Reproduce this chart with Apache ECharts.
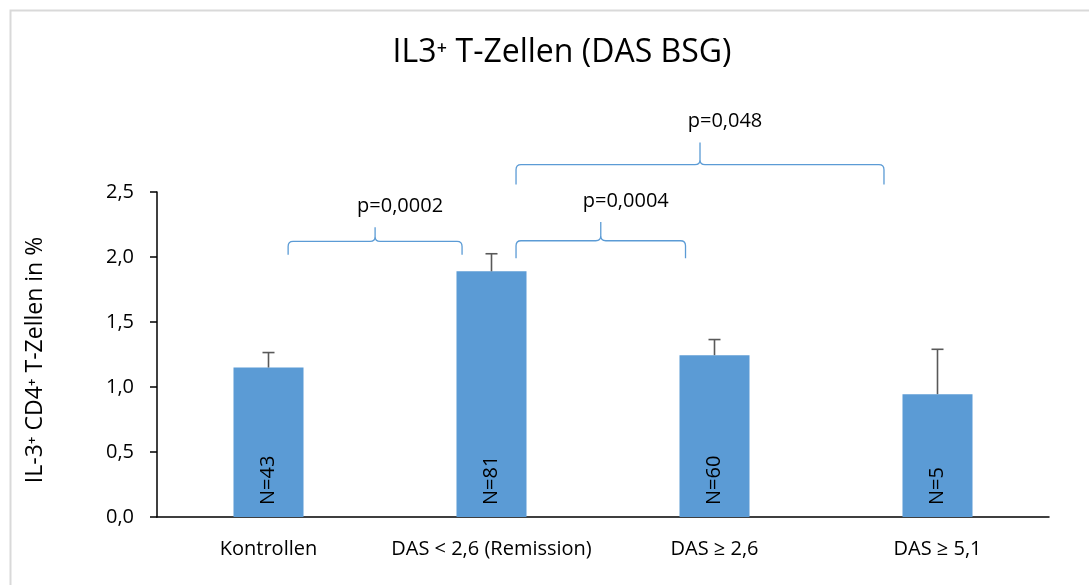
<!DOCTYPE html>
<html>
<head>
<meta charset="utf-8">
<style>
  html, body { margin: 0; padding: 0; background: #fff; }
  #chart { width: 1089px; height: 585px; }
</style>
<script src="https://cdn.jsdelivr.net/npm/echarts@6/dist/echarts.min.js"></script>
</head>
<body>
<div id="chart"></div>
<script>
// Groups and measured values (mean and standard error, % of CD4+ T cells)
const categories = ['Kontrollen', 'DAS < 2,6 (Remission)', 'DAS \u2265 2,6', 'DAS \u2265 5,1'];
const means = [1.15, 1.89, 1.245, 0.945];
const stdErrors = [0.115, 0.135, 0.12, 0.345];
const groupSizes = [43, 81, 60, 5];
const yTicks = [0, 0.5, 1.0, 1.5, 2.0, 2.5];

// Pairwise comparisons: [group A, group B, p label]
const comparisons = [
  [0, 1, 'p=0,0002'],
  [1, 2, 'p=0,0004'],
  [1, 3, 'p=0,048']
];
// Brace geometry per comparison: start/end shift in category widths, heights in axis units
const braceLayout = [
  { dx0: 0.088, dx1: -0.132, line: 2.12, ends: 2.018, tip: 2.228 },
  { dx0: 0.11, dx1: -0.13, line: 2.125, ends: 1.99, tip: 2.27 },
  { dx0: 0.11, dx1: -0.24, line: 2.71, ends: 2.557, tip: 2.88 }
];

const FONT = '"Open Sans", "DejaVu Sans", sans-serif';
const BLUE = '#5B9BD5';
const fmt = v => v.toFixed(1).replace('.', ',');

const chart = echarts.init(document.getElementById('chart'), null, { renderer: 'canvas' });

function renderErrorBar(params, api) {
  const i = api.value(0);
  const base = api.coord([i, api.value(1)]);
  const top = api.coord([i, api.value(2)]);
  const half = 6;
  const style = { stroke: '#595959', lineWidth: 1.6 };
  return {
    type: 'group',
    children: [
      { type: 'line', shape: { x1: base[0], y1: base[1], x2: top[0], y2: top[1] }, style },
      { type: 'line', shape: { x1: top[0] - half, y1: top[1], x2: top[0] + half, y2: top[1] }, style }
    ]
  };
}

function renderBrace(params, api) {
  const c = comparisons[params.dataIndex];
  const L = braceLayout[params.dataIndex];
  const band = api.size([1, 0])[0];
  const a = api.coord([c[0], L.line]);
  const b = api.coord([c[1], L.line]);
  const x0 = a[0] + L.dx0 * band;
  const x1 = b[0] + L.dx1 * band;
  const yH = a[1];
  const yE = api.coord([c[0], L.ends])[1];
  const yT = api.coord([c[0], L.tip])[1];
  const xm = (x0 + x1) / 2;
  const r = 5;
  const d = [
    'M', x0, yE, 'L', x0, yH + r, 'Q', x0, yH, x0 + r, yH,
    'L', xm - r, yH, 'Q', xm, yH, xm, yH - r, 'L', xm, yT,
    'M', xm, yT, 'L', xm, yH - r, 'Q', xm, yH, xm + r, yH,
    'L', x1 - r, yH, 'Q', x1, yH, x1, yH + r, 'L', x1, yE
  ].join(' ');
  return {
    type: 'group',
    children: [
      { type: 'path', shape: { pathData: d }, style: { stroke: BLUE, lineWidth: 1.3, fill: null } },
      {
        type: 'text',
        style: {
          x: xm + 25, y: yT - 21, text: c[2], fill: '#000',
          fontSize: 20, fontFamily: FONT, align: 'center', verticalAlign: 'middle'
        }
      }
    ]
  };
}

chart.setOption({
  animation: false,
  backgroundColor: '#fff',
  title: {
    text: 'IL3\u207A T-Zellen (DAS BSG)',
    left: 557,
    textAlign: 'center',
    top: 32,
    textStyle: { fontFamily: FONT, fontSize: 32, fontWeight: 'normal', color: '#000' }
  },
  graphic: [
    {
      type: 'rect', left: 8, top: 8, z: -1,
      shape: { width: 1100, height: 600 },
      style: { fill: null, stroke: '#d9d9d9', lineWidth: 2 }
    },
    {
      type: 'text', x: 35, y: 360, rotation: Math.PI / 2,
      style: {
        text: 'IL-3\u207A CD4\u207A T-Zellen in %', fill: '#000',
        fontSize: 23, fontFamily: FONT, align: 'center', verticalAlign: 'middle'
      }
    }
  ],
  grid: { left: 157, right: 40, top: 192, bottom: 68, containLabel: false },
  xAxis: {
    type: 'category',
    data: categories,
    axisLine: { lineStyle: { color: '#000', width: 1.5 } },
    axisTick: { show: false },
    axisLabel: { interval: 0, color: '#000', fontFamily: FONT, fontSize: 20, margin: 22 }
  },
  yAxis: {
    type: 'value',
    min: yTicks[0],
    max: yTicks[yTicks.length - 1],
    interval: 0.5,
    splitLine: { show: false },
    axisLine: { show: true, lineStyle: { color: '#000', width: 1.5 } },
    axisTick: { show: true, length: 7, lineStyle: { color: '#000', width: 1.5 } },
    axisLabel: { color: '#000', fontFamily: FONT, fontSize: 20, margin: 23, formatter: fmt }
  },
  series: [
    {
      type: 'bar',
      data: means,
      barWidth: '31.4%',
      itemStyle: { color: BLUE },
      label: {
        show: true,
        position: 'insideBottom',
        rotate: 90,
        align: 'left',
        verticalAlign: 'middle',
        distance: 12,
        color: '#000',
        fontFamily: FONT,
        fontSize: 20,
        formatter: p => 'N=' + groupSizes[p.dataIndex]
      }
    },
    {
      type: 'custom',
      renderItem: renderErrorBar,
      clip: false,
      z: 3,
      data: means.map((m, i) => [i, m, m + stdErrors[i]])
    },
    {
      type: 'custom',
      renderItem: renderBrace,
      clip: false,
      z: 4,
      data: comparisons.map(c => [c[0], c[1]])
    }
  ]
});
</script>
</body>
</html>
